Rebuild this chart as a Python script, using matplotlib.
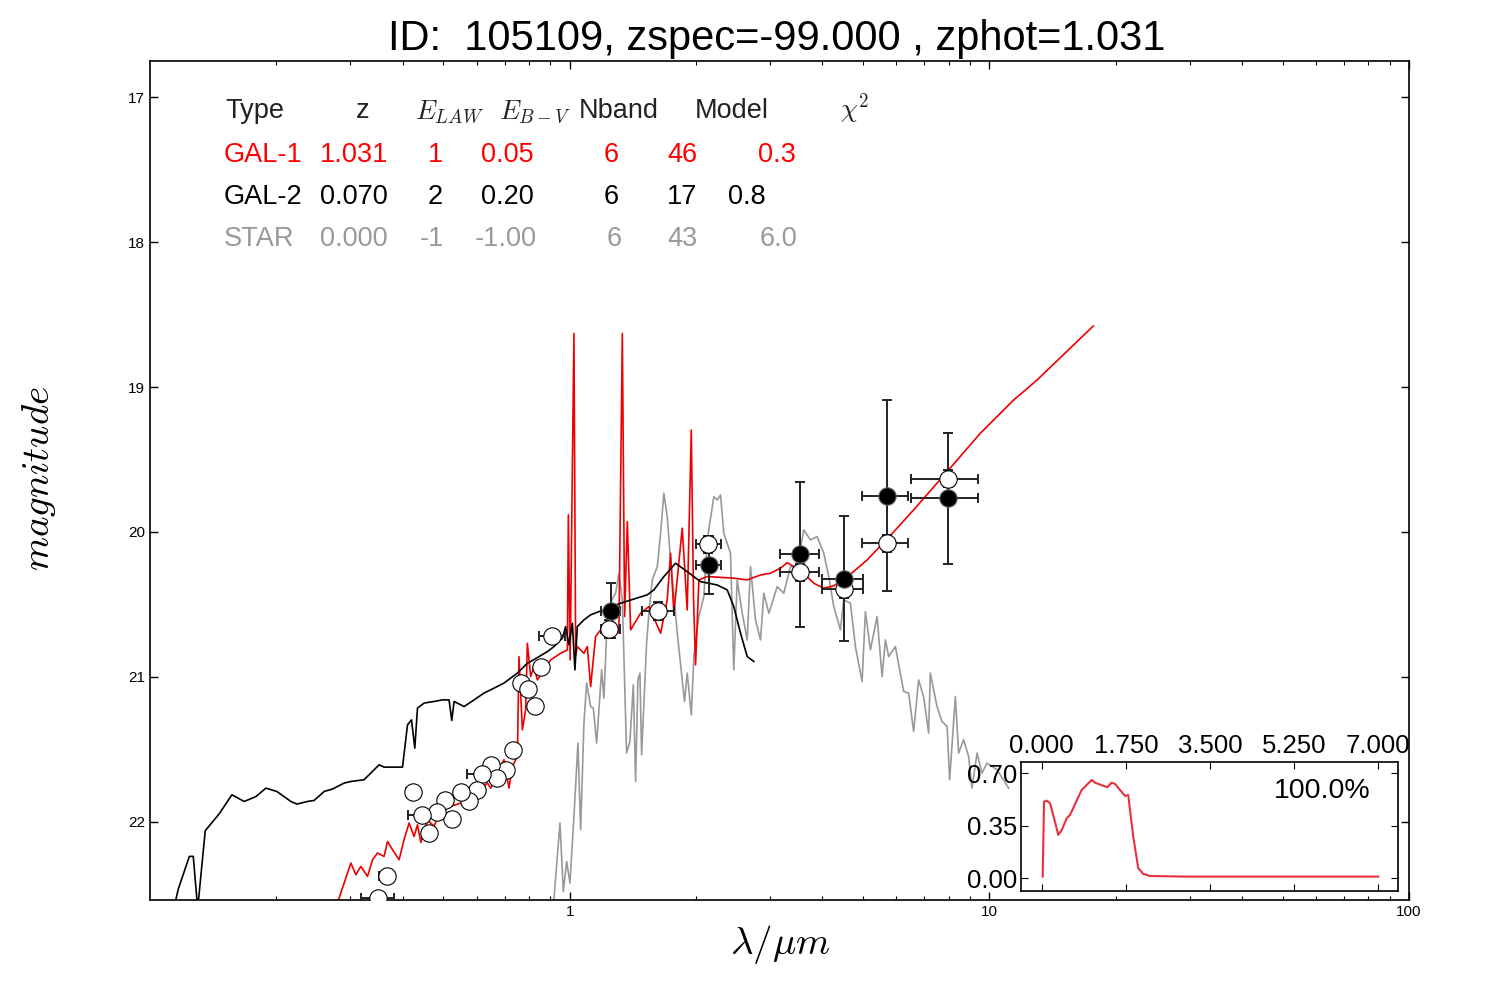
import matplotlib

matplotlib.use("Agg")
import matplotlib.pyplot as plt
from matplotlib.ticker import FixedLocator, NullFormatter, FormatStrFormatter
import numpy as np

plt.rcParams['font.family'] = ['Liberation Sans', 'DejaVu Sans']
plt.rcParams['mathtext.fontset'] = 'cm'

# ---- best-fit spectra (wavelength in micron, AB magnitude) ----
gal1_lam = [0.2738, 0.2823, 0.3011, 0.3094, 0.3180, 0.3299, 0.3391, 0.3484, 0.3613, 0.3681,
            0.3784, 0.3923, 0.4031, 0.4143, 0.4259, 0.4339, 0.4419, 0.4584, 0.4752, 0.4929,
            0.5207, 0.5500, 0.5813, 0.6138, 0.6369, 0.6485, 0.6727, 0.6975, 0.7168, 0.7303,
            0.7508, 0.7572, 0.7715, 0.7855, 0.7930, 0.8075, 0.8222, 0.8378, 0.9011, 0.9519,
            0.9875, 0.9929, 1.0027, 1.0238, 1.0335, 1.043, 1.0815, 1.1019, 1.122, 1.153,
            1.1852, 1.252, 1.3104, 1.3351, 1.352, 1.3722, 1.3972, 1.4757, 1.5444, 1.6471,
            1.708, 1.7397, 1.7713, 1.855, 1.906, 1.9492, 1.9737, 1.9953, 2.0321, 2.1276,
            2.461, 2.649, 2.85, 3.01, 3.18, 3.299, 3.42, 3.681, 3.817, 4.032,
            4.26, 4.667, 5.115, 5.706, 6.602, 7.934, 9.519, 11.426, 12.99, 17.69]
gal1_mag = [22.60, 22.526, 22.285, 22.366, 22.308, 22.377, 22.262, 22.216, 22.239, 22.136,
            22.193, 22.262, 22.124, 22.009, 22.101, 22.021, 22.143, 21.986, 22.032, 21.917,
            21.894, 21.871, 21.826, 21.779, 21.733, 21.768, 21.664, 21.572, 21.768, 21.619,
            21.55, 20.86, 21.366, 21.228, 20.768, 20.998, 20.929, 21.021, 20.883, 20.837,
            20.814, 19.883, 20.883, 18.63, 20.848, 20.791, 20.837, 20.791, 21.067, 20.722,
            20.676, 20.607, 20.699, 18.63, 20.584, 19.929, 20.676, 20.561, 20.515, 20.699,
            20.469, 20.147, 20.561, 19.974, 20.538, 19.297, 20.469, 20.917, 20.331, 20.308,
            20.319, 20.331, 20.297, 20.285, 20.25, 20.212, 20.239, 20.308, 20.354, 20.388,
            20.372, 20.292, 20.193, 20.05, 19.848, 19.584, 19.319, 19.09, 18.952, 18.579]

gal2_lam = [0.1139, 0.1168, 0.1241, 0.1268, 0.1299, 0.1354, 0.1462, 0.1567, 0.1677, 0.1788,
            0.1889, 0.2006, 0.2166, 0.2239, 0.2374, 0.2461, 0.2600, 0.2723, 0.2902, 0.3011,
            0.3237, 0.3359, 0.3515, 0.3613, 0.3997, 0.4108, 0.4199, 0.4276, 0.4339, 0.4498,
            0.4752, 0.4975, 0.5160, 0.5237, 0.5304, 0.5603, 0.5919, 0.6251, 0.6604, 0.6975,
            0.7508, 0.7930, 0.8075, 0.8849, 0.9176, 0.9608, 0.978, 0.9962, 1.0149, 1.0295,
            1.043, 1.0815, 1.122, 1.174, 1.3226, 1.531, 1.5876, 1.677, 1.788, 1.906,
            2.051, 2.247, 2.374, 2.461, 2.554, 2.649, 2.747]
gal2_mag = [22.60, 22.464, 22.239, 22.239, 22.60, 22.062, 21.945, 21.814, 21.86, 21.826,
            21.768, 21.791, 21.86, 21.878, 21.86, 21.853, 21.791, 21.774, 21.733, 21.722,
            21.71, 21.664, 21.607, 21.623, 21.623, 21.331, 21.297, 21.492, 21.216, 21.181,
            21.17, 21.159, 21.159, 21.301, 21.17, 21.205, 21.159, 21.112, 21.078, 21.043,
            20.974, 20.906, 20.894, 20.826, 20.791, 20.733, 20.653, 20.779, 20.63, 20.952,
            20.653, 20.607, 20.572, 20.55, 20.492, 20.434, 20.40, 20.308, 20.216, 20.274,
            20.343, 20.366, 20.40, 20.515, 20.699, 20.86, 20.894]

star_lam = [0.9011, 0.9176, 0.9482, 0.9660, 0.9837, 1.0016, 1.0238, 1.0466, 1.0622, 1.0815,
            1.0977, 1.122, 1.1387, 1.1597, 1.1918, 1.2068, 1.2249, 1.2589, 1.2868, 1.3104,
            1.3351, 1.3669, 1.3918, 1.418, 1.4359, 1.4543, 1.4705, 1.4841, 1.5254, 1.5444,
            1.5737, 1.6175, 1.6471, 1.677, 1.708, 1.7397, 1.805, 1.878, 1.906, 1.9492,
            1.977, 2.0321, 2.0877, 2.1276, 2.2057, 2.247, 2.2882, 2.3303, 2.417, 2.461,
            2.5075, 2.578, 2.649, 2.6977, 2.7726, 2.85, 2.9014, 2.9836, 3.1229, 3.237,
            3.3589, 3.4844, 3.6128, 3.7477, 3.889, 4.032, 4.144, 4.26, 4.418, 4.499,
            4.667, 4.797, 4.976, 5.067, 5.208, 5.402, 5.553, 5.655, 5.758, 5.973,
            6.252, 6.426, 6.602, 6.785, 6.974, 7.168, 7.235, 7.506, 7.715, 7.934,
            8.045, 8.299, 8.452, 8.687, 8.928, 9.095, 9.348, 9.608, 9.874, 10.43, 11.12]
star_mag = [22.60, 22.533, 22.009, 22.481, 22.274, 22.423, 21.963, 21.457, 22.055, 21.319,
            21.043, 21.205, 21.216, 21.457, 20.952, 21.147, 20.699, 20.469, 20.423, 20.285,
            20.469, 21.526, 21.446, 21.055, 21.722, 21.021, 20.974, 21.538, 20.768, 20.561,
            20.331, 20.239, 20.009, 19.733, 19.894, 20.193, 20.699, 21.17, 20.974, 21.262,
            20.86, 20.584, 20.446, 20.055, 19.757, 19.779, 19.745, 20.009, 20.147, 20.952,
            20.331, 20.561, 20.745, 20.239, 20.607, 20.745, 20.423, 20.561, 20.377, 20.423,
            20.239, 20.239, 19.986, 20.055, 20.032, 20.147, 20.308, 20.515, 20.676, 20.469,
            20.492, 20.791, 21.032, 20.55, 20.814, 20.584, 20.998, 20.745, 20.86, 20.791,
            21.101, 21.112, 21.377, 21.021, 21.136, 21.388, 20.974, 21.205, 21.308, 21.343,
            21.71, 21.136, 21.526, 21.434, 21.55, 21.768, 21.526, 21.664, 21.595, 21.641, 21.768]

# ---- photometry: broad bands used in the fit ----
bb_lam = [1.252, 2.146, 3.548, 4.499, 5.71, 7.96]
bb_lam_lo = [1.185, 1.995, 3.18, 3.997, 4.976, 6.52]
bb_lam_hi = [1.315, 2.297, 3.92, 5.004, 6.39, 9.38]
bb_mag = [20.545, 20.228, 20.154, 20.322, 19.75, 19.768]
bb_magerr = [0.19, 0.2, 0.5, 0.43, 0.66, 0.45]

# ---- model magnitudes in the same bands ----
mod_lam = [1.24, 2.134, 3.548, 4.517, 5.71, 7.975, 1.623]
mod_lam_lo = [1.185, 1.995, 3.18, 3.997, 4.976, 6.52, 1.49]
mod_lam_hi = [1.315, 2.297, 3.92, 5.004, 6.39, 9.38, 1.768]
mod_mag = [20.669, 20.085, 20.278, 20.393, 20.078, 19.632, 20.545]

# ---- medium bands ----
mb_lam = [0.9095, 0.8529, 0.7647, 0.7973, 0.8254, 0.7328, 0.7041, 0.6485, 0.6727, 0.6197,
          0.6006, 0.5758, 0.5500, 0.5237, 0.5049, 0.4825, 0.4624, 0.4459, 0.4235, 0.3666, 0.3497]
mb_mag = [20.717, 20.933, 21.043, 21.085, 21.2, 21.508, 21.646, 21.607, 21.699, 21.669,
          21.784, 21.855, 21.798, 21.981, 21.848, 21.933, 22.078, 21.952, 21.795, 22.372, 22.526]
mb_lamerr = [0.065, 0.015, 0.015, 0.015, 0.015, 0.015, 0.015, 0.015, 0.015, 0.05,
             0.015, 0.015, 0.015, 0.015, 0.015, 0.015, 0.015, 0.033, 0.015, 0.015, 0.031]

# ---- P(z) ----
pdz_z = [0.02, 0.048, 0.104, 0.173, 0.256, 0.345, 0.416, 0.52, 0.588, 0.832, 1.04, 1.108,
         1.364, 1.455, 1.524, 1.732, 1.80, 1.836, 1.904, 2.008, 2.112, 2.252, 3.0, 5.0, 7.0]
pdz_p = [0.011, 0.511, 0.517, 0.50, 0.40, 0.289, 0.322, 0.40, 0.422, 0.589, 0.655, 0.637,
         0.607, 0.637, 0.629, 0.549, 0.555, 0.455, 0.277, 0.067, 0.029, 0.015, 0.011, 0.011, 0.011]

# ---- fit summary table ----
table_header = ['Type', 'z', '$E_{LAW}$', '$E_{B-V}$', 'Nband', 'Model', r'$\chi^2$']
table_rows = [
    ['GAL-1', '1.031', '1', '0.05', '6', '46', '0.3'],
    ['GAL-2', '0.070', '2', '0.20', '6', '17', '0.8'],
    ['STAR', '0.000', '-1', '-1.00', '6', '43', '6.0'],
]
row_colors = ['red', 'black', '#999999']
# left edges (px) of each column for header and each row
header_px = [225, 356, 415, 499, 579, 695, 840]
rows_px = [
    [224, 320, 428, 481, 604, 667, 758],
    [224, 320, 428, 481, 604, 667, 728],
    [224, 320, 420, 475, 607, 667, 760],
]
rows_baseline = [162, 204, 246]

fig = plt.figure(figsize=(15, 10), dpi=100)
ax = fig.add_axes([0.1, 0.1, 0.8393, 0.839])

ax.plot(star_lam, star_mag, color='#999999', lw=1.2, zorder=2)
ax.plot(gal1_lam, gal1_mag, color='#ee0000', lw=1.2, zorder=2.2)
ax.plot(gal2_lam, gal2_mag, color='black', lw=1.2, zorder=2.4)

ebar = dict(fmt='none', ecolor='#222222', elinewidth=1.4, capsize=3.5, capthick=1.4, zorder=4)
bb_xerr = [np.array(bb_lam) - np.array(bb_lam_lo), np.array(bb_lam_hi) - np.array(bb_lam)]
mod_xerr = [np.array(mod_lam) - np.array(mod_lam_lo), np.array(mod_lam_hi) - np.array(mod_lam)]
ax.errorbar(bb_lam, bb_mag, xerr=bb_xerr, yerr=bb_magerr, **ebar)
ax.errorbar(mod_lam, mod_mag, xerr=mod_xerr, yerr=0.06, **ebar)
ax.errorbar(mb_lam, mb_mag, xerr=mb_lamerr, yerr=0.03, **ebar)

mk = dict(ls='none', marker='o', ms=12.5, mew=0.8)
ax.plot(mb_lam, mb_mag, mfc='white', mec='black', zorder=5, **mk)
ax.plot(mod_lam, mod_mag, mfc='white', mec='black', zorder=5, **mk)
ax.plot(bb_lam, bb_mag, mfc='black', mec='#666666', zorder=6, **mk)

ax.set_xscale('log')
ax.set_xlim(0.1, 100)
ax.set_ylim(22.54, 16.75)
ax.xaxis.set_major_locator(FixedLocator([1, 10, 100]))
ax.set_xticklabels(['1', '10', '100'])
ax.xaxis.set_minor_formatter(NullFormatter())
ax.set_yticks([17, 18, 19, 20, 21, 22])
ax.tick_params(which='both', direction='in', top=True, right=True, labelsize=11)
ax.tick_params(which='major', length=6, width=1)
ax.tick_params(which='minor', length=3, width=0.8)
for s in ax.spines.values():
    s.set_linewidth(1.2)

fig.text(0.518, 0.961, 'ID:  105109, zspec=-99.000 , zphot=1.031',
         ha='center', va='center', fontsize=30)
fig.text(0.026, 0.522, '$magnitude$', rotation=90, ha='center', va='center', fontsize=28)
fig.text(0.52, 0.055, r'$\lambda/\mu m$', ha='center', va='center', fontsize=28)

# table
for label, px in zip(table_header, header_px):
    fig.text(px / 1500, 1 - 118 / 1000, label, ha='left', va='baseline',
             fontsize=19.5, color='#222222')
for row, xs, yb, c in zip(table_rows, rows_px, rows_baseline, row_colors):
    for label, px in zip(row, xs):
        fig.text(px / 1500, 1 - yb / 1000, label, ha='left', va='baseline',
                 fontsize=19.5, color=c)

# P(z) inset
axin = fig.add_axes([0.6807, 0.1093, 0.2513, 0.129])
axin.set_facecolor('white')
axin.plot(pdz_z, pdz_p, color='#e8303c', lw=1.5)
axin.set_xlim(-0.43, 7.41)
axin.set_ylim(-0.083, 0.777)
axin.set_xticks([0.0, 1.75, 3.5, 5.25, 7.0])
axin.set_yticks([0.0, 0.35, 0.70])
axin.xaxis.set_major_formatter(FormatStrFormatter('%.3f'))
axin.yaxis.set_major_formatter(FormatStrFormatter('%.2f'))
axin.tick_params(axis='x', direction='in', top=True, bottom=True,
                 labeltop=True, labelbottom=False, labelsize=18.5, pad=3)
axin.tick_params(axis='y', direction='in', left=True, right=True, labelsize=18.5, pad=3)
axin.tick_params(length=5)
for s in axin.spines.values():
    s.set_linewidth(1.2)
axin.text(0.798, 0.773, '100.0%', transform=axin.transAxes, ha='center', va='center',
          fontsize=20.5)

fig.savefig('out.png', dpi=100)
